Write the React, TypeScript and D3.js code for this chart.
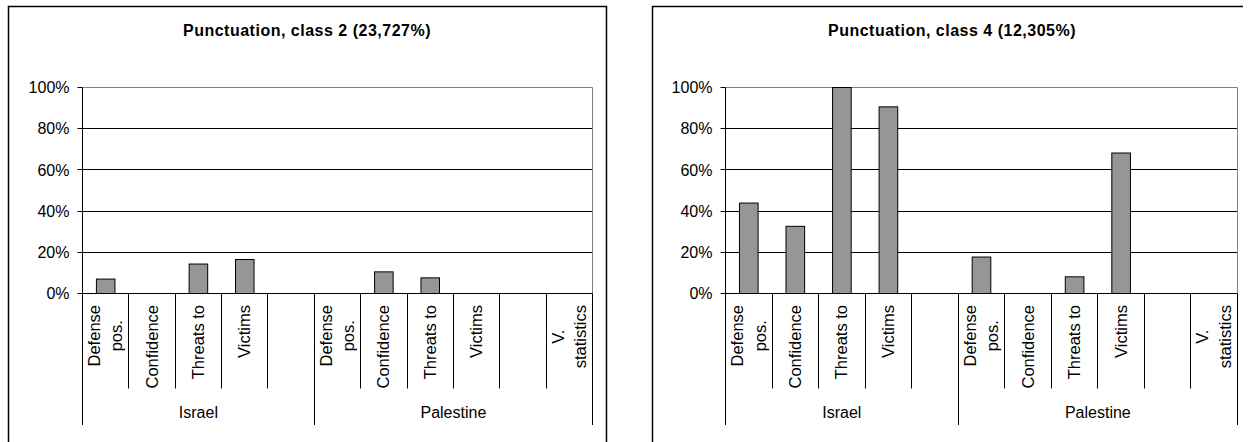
import React, { useEffect, useRef } from "react";
import * as d3 from "d3";

const FONT = "'Liberation Sans', Arial, Helvetica, sans-serif";

const groupNames = ["Israel", "Palestine"];
const israelCategories = ["Defense\npos.", "Confidence", "Threats to", "Victims", ""];
const palestineCategories = ["Defense\npos.", "Confidence", "Threats to", "Victims", "", "V.\nstatistics"];

const class2Israel = [7.0, 0, 14.3, 16.5, 0];
const class2Palestine = [0, 10.5, 7.6, 0, 0, 0];
const class4Israel = [43.9, 32.6, 100, 90.6, 0];
const class4Palestine = [17.7, 0, 8.1, 68.2, 0, 0];

const yTicks = [0, 20, 40, 60, 80, 100];
const titles = ["Punctuation, class 2 (23,727%)", "Punctuation, class 4 (12,305%)"];

type ChartCfg = {
  title: string;
  values: number[][];
  boxL: number;
  boxR: number;
  rightEdge: boolean;
  plotL: number;
  plotR: number;
  titleX: number;
};

const charts: ChartCfg[] = [
  { title: titles[0], values: [class2Israel, class2Palestine], boxL: 8.5, boxR: 606.5, rightEdge: true, plotL: 82.5, plotR: 592.5, titleX: 307 },
  { title: titles[1], values: [class4Israel, class4Palestine], boxL: 652.5, boxR: 1243, rightEdge: false, plotL: 725.5, plotR: 1237.5, titleX: 952 },
];

const BOX_TOP = 6.5;
const Y0 = 293.5;
const Y100 = 87.5;
const TICK_END = 388.5;
const GROUP_END = 425;
const LABEL_TOP = 305;
const GROUP_LABEL_Y = 418;

function drawChart(svg: d3.Selection<SVGSVGElement, unknown, null, undefined>, c: ChartCfg) {
  const g = svg.append("g");
  const cats: { label: string; value: number; group: number; key: string }[] = [];
  const groupCats = [israelCategories, palestineCategories];
  groupCats.forEach((list, gi) =>
    list.forEach((lab, i) => cats.push({ label: lab, value: c.values[gi][i], group: gi, key: `${gi}-${i}` }))
  );

  const x = d3.scaleBand<string>().domain(cats.map((d) => d.key)).range([c.plotL, c.plotR]).padding(0);
  const bw = x.bandwidth();
  const y = d3.scaleLinear().domain([0, 100]).range([Y0, Y100]);
  const snap = (v: number) => Math.round(v - 0.5) + 0.5;

  const boxPath = c.rightEdge
    ? `M${c.boxL},460V${BOX_TOP}H${c.boxR}V460`
    : `M${c.boxL},460V${BOX_TOP}H${c.boxR}`;
  g.append("path").attr("d", boxPath).attr("fill", "none").attr("stroke", "#000").attr("stroke-width", 1.5);

  g.append("text")
    .attr("x", c.titleX)
    .attr("y", 36)
    .attr("text-anchor", "middle")
    .attr("font-family", FONT)
    .attr("font-size", 16)
    .attr("font-weight", "bold")
    .attr("letter-spacing", 0.5)
    .text(c.title);

  yTicks.filter((t) => t > 0 && t < 100).forEach((t) => {
    g.append("line")
      .attr("x1", c.plotL).attr("x2", c.plotR)
      .attr("y1", snap(y(t))).attr("y2", snap(y(t)))
      .attr("stroke", "#000").attr("stroke-width", 1);
  });
  g.append("path")
    .attr("d", `M${c.plotL},${snap(y(100))}H${c.plotR}V${Y0}`)
    .attr("fill", "none").attr("stroke", "#808080").attr("stroke-width", 1);

  g.selectAll("rect.bar")
    .data(cats.filter((d) => d.value > 0))
    .enter()
    .append("rect")
    .attr("x", (d) => (x(d.key) as number) + bw * 0.3)
    .attr("width", bw * 0.4)
    .attr("y", (d) => y(d.value))
    .attr("height", (d) => Y0 - y(d.value))
    .attr("fill", "#969696")
    .attr("stroke", "#000")
    .attr("stroke-width", 1);

  g.append("line").attr("x1", c.plotL).attr("x2", c.plotL).attr("y1", Y100).attr("y2", Y0).attr("stroke", "#000");
  yTicks.forEach((t) => {
    const yy = snap(y(t));
    g.append("line").attr("x1", c.plotL - 5).attr("x2", c.plotL).attr("y1", yy).attr("y2", yy).attr("stroke", "#000");
    g.append("text")
      .attr("x", c.plotL - 13)
      .attr("y", y(t))
      .attr("dy", "0.35em")
      .attr("text-anchor", "end")
      .attr("font-family", FONT)
      .attr("font-size", 16)
      .text(`${t}%`);
  });

  g.append("line").attr("x1", c.plotL).attr("x2", c.plotR).attr("y1", Y0).attr("y2", Y0).attr("stroke", "#000");

  const boundaries = cats.map((d) => x(d.key) as number).concat([c.plotR]);
  const groupBoundaryIdx = [0, israelCategories.length, cats.length];
  boundaries.forEach((bx, i) => {
    const isGroup = groupBoundaryIdx.includes(i);
    g.append("line")
      .attr("x1", snap(bx)).attr("x2", snap(bx))
      .attr("y1", Y0).attr("y2", isGroup ? GROUP_END : TICK_END)
      .attr("stroke", "#000").attr("stroke-width", 1);
  });

  const L = 22.5;
  const C = 5.5;
  cats.forEach((d) => {
    if (!d.label) return;
    const lines = d.label.split("\n");
    const cx = (x(d.key) as number) + bw / 2;
    const texts = lines.map((ln) =>
      g.append("text")
        .attr("font-family", FONT)
        .attr("font-size", 16.5)
        .attr("text-anchor", "middle")
        .text(ln)
    );
    const widths = texts.map((t) => (t.node() as SVGTextElement).getComputedTextLength());
    const maxW = d3.max(widths) || 0;
    const yMid = LABEL_TOP + maxW / 2;
    texts.forEach((t, i) => {
      const xb = cx + C + (i - (lines.length - 1) / 2) * L;
      t.attr("transform", `translate(${xb},${yMid}) rotate(-90)`);
    });
  });

  groupNames.forEach((name, gi) => {
    const a = boundaries[groupBoundaryIdx[gi]];
    const b = boundaries[groupBoundaryIdx[gi + 1]];
    g.append("text")
      .attr("x", (a + b) / 2)
      .attr("y", GROUP_LABEL_Y)
      .attr("text-anchor", "middle")
      .attr("font-family", FONT)
      .attr("font-size", 16)
      .text(name);
  });
}

export default function App() {
  const ref = useRef<SVGSVGElement>(null);
  useEffect(() => {
    if (!ref.current) return;
    const svg = d3.select(ref.current);
    svg.selectAll("*").remove();
    charts.forEach((c) => drawChart(svg as any, c));
  }, []);
  return (
    <svg
      ref={ref}
      width={1249}
      height={442}
      style={{ position: "absolute", left: 0, top: 0, background: "#fff", display: "block" }}
    />
  );
}
